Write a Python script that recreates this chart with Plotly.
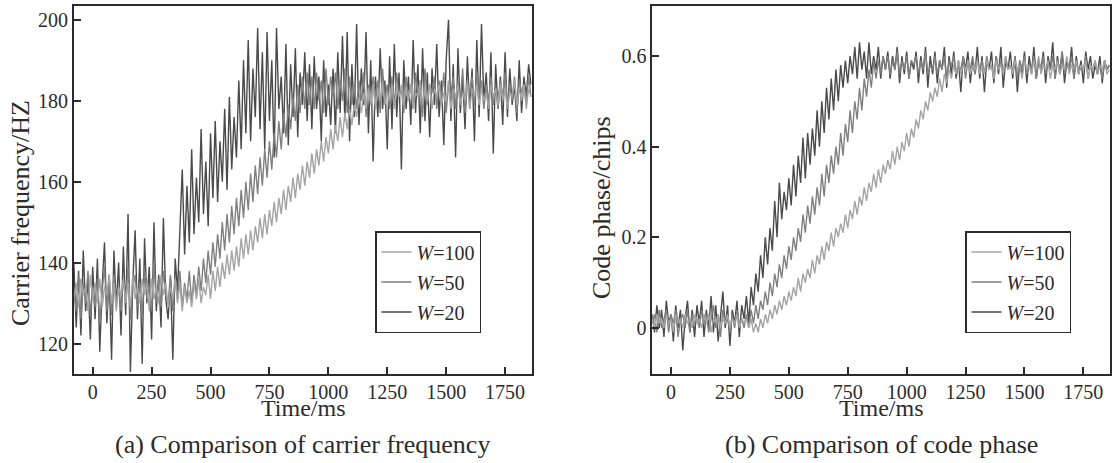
import plotly.graph_objects as go

# ---------------- data ----------------
time_ms = list(range(-80, 1870, 10))

carrier_w20 = [
    140, 124, 138, 122, 143, 128, 136, 121, 139, 126, 141, 118, 134, 145, 125, 137, 116, 143, 129, 140,
    122, 144, 127, 152, 113, 135, 148, 126, 141, 115, 146, 130, 139, 121, 150, 128, 137, 124, 151, 131,
    126, 136, 116, 141, 133, 147, 163, 142, 159, 145, 168, 147, 161, 150, 173, 152, 165, 149, 172, 156,
    175, 155, 170, 160, 178, 158, 181, 163, 176, 166, 185, 168, 190, 172, 195, 170, 188, 176, 198, 173,
    192, 168, 197, 175, 190, 166, 198, 178, 186, 172, 194, 169, 189, 176, 193, 171, 187, 179, 192, 175,
    189, 173, 191, 178, 186, 170, 190, 176, 184, 174, 188, 172, 192, 177, 196, 175, 197, 170, 189, 176,
    199, 174, 188, 179, 197, 172, 190, 165, 186, 176, 193, 178, 185, 168, 191, 173, 194, 176, 187, 163,
    190, 178, 186, 174, 195, 177, 189, 172, 193, 175, 187, 171, 188, 179, 194, 176, 185, 169, 190, 200,
    175, 189, 166, 193, 177, 186, 173, 191, 178, 188, 170, 195, 176, 199, 180, 187, 175, 192, 167, 189,
    178, 186, 174, 192, 176, 188, 179, 184, 175, 190, 177, 186, 181, 189, 184,
]

carrier_w50 = [
    133, 128, 137, 126, 135, 130, 138, 127, 134, 129, 136, 125, 133, 139, 128, 135, 127, 137, 130, 134,
    128, 136, 131, 139, 126, 134, 137, 129, 135, 127, 138, 131, 134, 128, 140, 130, 136, 129, 138, 132,
    130, 137, 128, 136, 131, 138, 129, 135, 131, 138, 130, 137, 132, 139, 133, 141, 135, 143, 137, 145,
    139, 147, 141, 150, 143, 152, 145, 154, 147, 156, 149, 158, 151, 160, 153, 162, 155, 164, 157, 166,
    159, 168, 161, 170, 163, 172, 166, 175, 168, 177, 171, 179, 173, 181, 175, 184, 177, 186, 178, 187,
    179, 186, 178, 187, 180, 185, 177, 188, 179, 186, 181, 187, 178, 185, 180, 188, 177, 186, 179, 184,
    178, 185, 180, 187, 176, 184, 179, 186, 181, 185, 177, 188, 180, 184, 178, 186, 179, 187, 181, 183,
    177, 186, 180, 184, 178, 187, 181, 185, 176, 188, 179, 184, 182, 186, 178, 185, 180, 187, 177, 184,
    181, 186, 178, 185, 180, 188, 177, 184, 182, 186, 179, 187, 181, 185, 178, 184, 180, 186, 179, 183,
    178, 185, 181, 187, 179, 184, 180, 186, 177, 185, 182, 184, 179, 186, 181,
]

carrier_w100 = [
    131, 135, 129, 136, 132, 134, 128, 137, 131, 135, 130, 136, 129, 134, 132, 137, 130, 135, 128, 134,
    132, 136, 130, 135, 129, 137, 131, 134, 130, 136, 132, 135, 128, 136, 131, 134, 130, 137, 132, 135,
    129, 134, 131, 136, 130, 135, 128, 134, 130, 133, 129, 135, 131, 136, 130, 134, 132, 137, 131, 138,
    133, 139, 134, 140, 136, 142, 137, 143, 138, 144, 139, 146, 141, 147, 142, 148, 143, 149, 145, 151,
    146, 152, 147, 153, 149, 155, 150, 156, 152, 158, 153, 159, 155, 161, 156, 162, 158, 164, 159, 165,
    161, 167, 162, 168, 164, 170, 165, 171, 167, 173, 168, 174, 170, 176, 171, 177, 173, 178, 174, 179,
    176, 181, 177, 182, 178, 183, 179, 184, 178, 183, 180, 184, 179, 182, 180, 184, 178, 183, 181, 184,
    179, 183, 180, 184, 178, 182, 181, 185, 179, 183, 180, 184, 178, 183, 181, 184, 179, 182, 180, 185,
    178, 183, 181, 184, 179, 182, 180, 185, 178, 183, 181, 184, 179, 183, 180, 182, 178, 184, 181, 183,
    179, 184, 180, 183, 178, 182, 181, 185, 179, 183, 180, 184, 178, 183, 181,
]

code_w20 = [
    0.03, -0.01, 0.05, 0.00, 0.04, -0.02, 0.06, 0.01, 0.03, -0.03, 0.05, 0.00, 0.04, -0.05, 0.02, 0.06, -0.01, 0.04, -0.02, 0.05,
    0.01, 0.06, -0.02, 0.04, 0.00, 0.07, -0.01, 0.05, -0.03, 0.03, 0.08, 0.00, 0.05, -0.04, 0.04, 0.01, 0.06, -0.02, 0.05, 0.02,
    0.07, 0.01, 0.09, 0.05, 0.12, 0.08, 0.16, 0.11, 0.20, 0.14, 0.22, 0.17, 0.28, 0.20, 0.32, 0.24, 0.30, 0.26, 0.33, 0.27,
    0.36, 0.29, 0.38, 0.32, 0.42, 0.33, 0.43, 0.36, 0.44, 0.38, 0.48, 0.40, 0.50, 0.43, 0.53, 0.46, 0.55, 0.48, 0.57, 0.50,
    0.58, 0.53, 0.59, 0.54, 0.60, 0.56, 0.62, 0.55, 0.63, 0.57, 0.61, 0.55, 0.63, 0.56, 0.60, 0.57, 0.62, 0.55, 0.60, 0.57,
    0.61, 0.55, 0.60, 0.57, 0.62, 0.54, 0.60, 0.56, 0.61, 0.55, 0.59, 0.57, 0.61, 0.54, 0.60, 0.56, 0.62, 0.53, 0.60, 0.56,
    0.61, 0.54, 0.59, 0.57, 0.62, 0.53, 0.60, 0.56, 0.61, 0.55, 0.59, 0.52, 0.60, 0.57, 0.61, 0.54, 0.59, 0.56, 0.62, 0.55,
    0.60, 0.52, 0.59, 0.57, 0.61, 0.54, 0.60, 0.56, 0.62, 0.53, 0.59, 0.57, 0.61, 0.55, 0.60, 0.52, 0.59, 0.56, 0.61, 0.54,
    0.60, 0.56, 0.62, 0.55, 0.59, 0.57, 0.61, 0.54, 0.60, 0.57, 0.63, 0.55, 0.60, 0.56, 0.61, 0.54, 0.59, 0.57, 0.62, 0.55,
    0.60, 0.56, 0.59, 0.54, 0.61, 0.57, 0.60, 0.55, 0.58, 0.56, 0.60, 0.54, 0.59, 0.57, 0.58,
]

code_w50 = [
    0.01, 0.03, -0.01, 0.04, 0.00, 0.02, 0.04, -0.01, 0.03, 0.01, 0.04, -0.02, 0.02, 0.03, 0.00, 0.04, -0.01, 0.03, 0.01, 0.02,
    0.00, 0.04, 0.01, 0.03, -0.01, 0.02, 0.05, 0.00, 0.03, -0.02, 0.04, 0.01, 0.02, -0.01, 0.03, 0.00, 0.04, 0.01, 0.02, 0.00,
    0.03, 0.00, 0.04, 0.01, 0.05, 0.02, 0.06, 0.04, 0.08, 0.05, 0.10, 0.07, 0.12, 0.09, 0.14, 0.11, 0.16, 0.13, 0.18, 0.15,
    0.20, 0.17, 0.22, 0.19, 0.25, 0.21, 0.27, 0.23, 0.29, 0.25, 0.31, 0.27, 0.34, 0.29, 0.36, 0.32, 0.38, 0.34, 0.40, 0.36,
    0.43, 0.38, 0.45, 0.41, 0.48, 0.43, 0.50, 0.46, 0.53, 0.48, 0.55, 0.51, 0.57, 0.53, 0.59, 0.55, 0.59, 0.56, 0.60, 0.57,
    0.60, 0.56, 0.59, 0.57, 0.61, 0.56, 0.59, 0.57, 0.60, 0.55, 0.59, 0.58, 0.60, 0.56, 0.59, 0.57, 0.61, 0.56, 0.58, 0.57,
    0.60, 0.56, 0.59, 0.57, 0.60, 0.55, 0.59, 0.58, 0.60, 0.56, 0.58, 0.57, 0.60, 0.55, 0.59, 0.57, 0.60, 0.56, 0.59, 0.57,
    0.59, 0.56, 0.60, 0.57, 0.58, 0.55, 0.60, 0.57, 0.59, 0.56, 0.60, 0.57, 0.58, 0.56, 0.60, 0.55, 0.59, 0.57, 0.60, 0.56,
    0.58, 0.57, 0.60, 0.55, 0.59, 0.57, 0.60, 0.56, 0.58, 0.57, 0.60, 0.55, 0.59, 0.57, 0.61, 0.56, 0.58, 0.57, 0.60, 0.55,
    0.59, 0.56, 0.58, 0.57, 0.60, 0.55, 0.58, 0.57, 0.59, 0.56, 0.58, 0.55, 0.59, 0.57, 0.58,
]

code_w100 = [
    0.02, 0.00, 0.03, 0.01, 0.02, 0.00, 0.03, 0.01, 0.02, -0.01, 0.03, 0.01, 0.02, 0.00, 0.03, 0.01, 0.02, 0.00, 0.03, 0.01,
    0.02, 0.00, 0.03, 0.01, 0.03, -0.01, 0.02, 0.01, 0.03, 0.00, 0.02, 0.01, 0.03, 0.00, 0.02, 0.01, 0.03, 0.00, 0.02, 0.01,
    0.02, 0.00, 0.02, -0.01, 0.01, -0.01, 0.02, 0.00, 0.03, 0.01, 0.04, 0.02, 0.05, 0.03, 0.06, 0.04, 0.07, 0.05, 0.08, 0.06,
    0.09, 0.07, 0.11, 0.08, 0.12, 0.10, 0.13, 0.11, 0.15, 0.12, 0.16, 0.14, 0.18, 0.15, 0.19, 0.17, 0.21, 0.18, 0.22, 0.20,
    0.23, 0.21, 0.25, 0.22, 0.26, 0.24, 0.28, 0.25, 0.29, 0.27, 0.31, 0.28, 0.32, 0.30, 0.34, 0.31, 0.35, 0.32, 0.36, 0.34,
    0.37, 0.35, 0.39, 0.36, 0.40, 0.37, 0.41, 0.39, 0.43, 0.40, 0.44, 0.42, 0.46, 0.44, 0.48, 0.46, 0.50, 0.48, 0.52, 0.50,
    0.53, 0.51, 0.55, 0.52, 0.56, 0.54, 0.57, 0.55, 0.58, 0.56, 0.59, 0.56, 0.58, 0.57, 0.59, 0.56, 0.58, 0.57, 0.59, 0.56,
    0.58, 0.56, 0.59, 0.57, 0.58, 0.55, 0.59, 0.57, 0.58, 0.56, 0.60, 0.57, 0.58, 0.56, 0.59, 0.57, 0.58, 0.55, 0.59, 0.57,
    0.58, 0.56, 0.59, 0.57, 0.60, 0.56, 0.58, 0.57, 0.59, 0.55, 0.58, 0.57, 0.59, 0.56, 0.58, 0.57, 0.60, 0.56, 0.58, 0.57,
    0.59, 0.56, 0.58, 0.57, 0.59, 0.55, 0.58, 0.57, 0.59, 0.56, 0.58, 0.57, 0.59, 0.56, 0.57,
]

series_names = ["<i>W</i>=20", "<i>W</i>=50", "<i>W</i>=100"]
legend_ranks = [3, 2, 1]
x_tick_vals = [0, 250, 500, 750, 1000, 1250, 1500, 1750]
carrier_tick_vals = [120, 140, 160, 180, 200]
code_tick_vals = [0, 0.2, 0.4, 0.6]
code_tick_text = ["0", "0.2", "0.4", "0.6"]

for s in (carrier_w20, carrier_w50, carrier_w100, code_w20, code_w50, code_w100):
    assert len(s) == len(time_ms), len(s)

# ---------------- styling ----------------
FONT = "Liberation Serif"
INK = "#2b2b2b"
colors = ["#4a4a4a", "#808080", "#a4a4a4"]
W, H = 1116, 463

fig = go.Figure()

for name, ys, c, rk in zip(series_names, [carrier_w20, carrier_w50, carrier_w100], colors, legend_ranks):
    fig.add_trace(go.Scatter(x=time_ms, y=ys, mode="lines", name=name,
                             line=dict(color=c, width=1.4), xaxis="x", yaxis="y",
                             legend="legend", legendgroup="a" + name, legendrank=rk))
for name, ys, c, rk in zip(series_names, [code_w20, code_w50, code_w100], colors, legend_ranks):
    fig.add_trace(go.Scatter(x=time_ms, y=ys, mode="lines", name=name,
                             line=dict(color=c, width=1.4), xaxis="x2", yaxis="y2",
                             legend="legend2", legendgroup="b" + name, legendrank=rk))

axis_common = dict(showline=True, linecolor=INK, linewidth=1.8, mirror=True,
                   ticks="inside", ticklen=7, tickwidth=1.5, tickcolor=INK,
                   showgrid=False, zeroline=False,
                   tickfont=dict(family=FONT, size=20, color=INK))

x1 = [74 / W, 531.7 / W]
x2 = [652.3 / W, 1110 / W]
yd = [1 - 373.5 / H, 1 - 5.7 / H]

legend_common = dict(yanchor="top", xanchor="left", traceorder="grouped", tracegroupgap=1,
                     bordercolor=INK, borderwidth=1.5, bgcolor="white",
                     font=dict(family=FONT, size=20, color=INK))

fig.update_layout(
    width=W, height=H, margin=dict(l=0, r=0, t=0, b=0),
    paper_bgcolor="white", plot_bgcolor="white",
    font=dict(family=FONT, color=INK),
    xaxis=dict(domain=x1, range=[-79.4, 1863], tickvals=x_tick_vals, anchor="y", **axis_common),
    yaxis=dict(domain=yd, range=[112.6, 203.5], tickvals=carrier_tick_vals, anchor="x", **axis_common),
    xaxis2=dict(domain=x2, range=[-79.4, 1863], tickvals=x_tick_vals, anchor="y2", **axis_common),
    yaxis2=dict(domain=yd, range=[-0.1007, 0.711], tickvals=code_tick_vals, ticktext=code_tick_text,
                anchor="x2", **axis_common),
    legend=dict(x=375 / W, y=1 - 231 / H, **legend_common),
    legend2=dict(x=965 / W, y=1 - 231 / H, **legend_common),
    showlegend=True,
)

def ann(text, x, y, size, angle=0):
    fig.add_annotation(text=text, x=x / W, y=1 - y / H, xref="paper", yref="paper",
                       showarrow=False, xanchor="center", yanchor="middle", textangle=angle,
                       font=dict(family=FONT, size=size, color=INK))

cx1 = (x1[0] + x1[1]) / 2 * W
cx2 = (x2[0] + x2[1]) / 2 * W
ann("Time/ms", cx1, 408, 24)
ann("Time/ms", cx2, 408, 24)
ann("(a) Comparison of carrier frequency", cx1, 444, 26)
ann("(b) Comparison of code phase", cx2, 444, 26)
ann("Carrier frequency/HZ", 21, 213, 26, -90)
ann("Code phase/chips", 601, 208, 26, -90)

fig.write_html("out.html",
               config={"displayModeBar": False},
               post_script="document.body.style.margin='0px';document.body.style.overflow='hidden';")
